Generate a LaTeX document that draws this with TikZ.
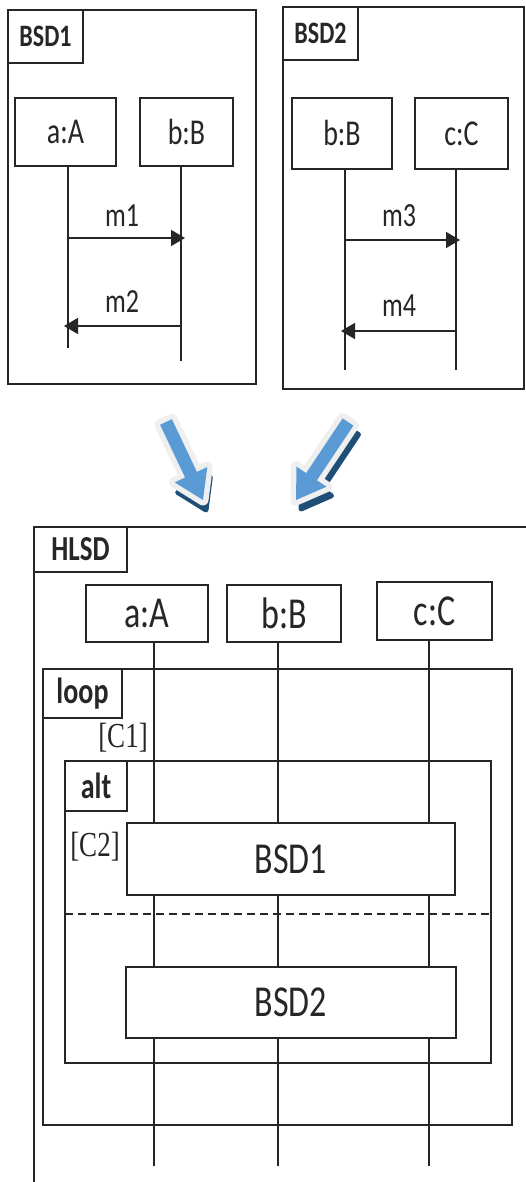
\documentclass[tikz,border=0pt]{standalone}
\usepackage{fontspec}
\setmainfont{Carlito}
\newfontfamily\guardfont{Liberation Serif}
\usetikzlibrary{arrows.meta}
\newcommand\tall[1]{\scalebox{1}[1.3]{#1}}
\definecolor{ink}{HTML}{262626}
\definecolor{arrblue}{HTML}{5B9BD5}
\definecolor{arrdark}{HTML}{1F4E79}
\definecolor{arrrim}{HTML}{EFEFEF}
\tikzset{
  box/.style={draw=ink, line width=1.8pt, fill=white, inner sep=0pt, text=ink},
  frame/.style={draw=ink, line width=1.8pt, inner sep=0pt},
  tagbox/.style={draw=ink, line width=1.8pt, fill=white, inner sep=0pt, text=ink, font=\bfseries\fontsize{24}{24}\selectfont},
  life/.style={draw=ink, line width=1.5pt},
  msg/.style={draw=ink, line width=1.6pt, -{Triangle[length=14pt,width=16pt]}},
  msglabel/.style={text=ink, inner sep=0pt, font=\fontsize{26}{26}\selectfont},
  guard/.style={text=ink, inner sep=0pt, font=\guardfont\fontsize{27}{27}\selectfont},
  bigrim/.style={fill=arrrim, draw=arrrim, line width=11pt, line join=round},
  bigarrow/.style={fill=arrblue, draw=none},
  bigshadow/.style={fill=arrdark, draw=arrdark, line width=5pt, line join=round}
}
\begin{document}
\begin{tikzpicture}[x=1pt,y=-1pt]
\useasboundingbox[fill=white] (0,0) rectangle (526,1182);

% ---------------- BSD1 ----------------
\node[frame, minimum width=248pt, minimum height=374pt] (f1) at (132,197) {};
\node[tagbox, minimum width=75pt, minimum height=53pt] (t1) at (45.5,36.5) {\tall{BSD1}};
\node[box, minimum width=101pt, minimum height=68pt, font=\fontsize{28}{28}\selectfont] (a1) at (65.5,132) {\tall{a:A}};
\node[box, minimum width=93pt, minimum height=68pt, font=\fontsize{28}{28}\selectfont] (b1) at (186.5,132) {\tall{b:B}};
\coordinate (a1e) at (68,348);
\coordinate (b1e) at (181,361);
\draw[life] (a1e |- a1.south) -- (a1e);
\draw[life] (b1e |- b1.south) -- (b1e);
\coordinate (m1s) at (68,238);
\coordinate (m1e) at (185,238);
\coordinate (m2s) at (181,326);
\coordinate (m2e) at (64,326);
\draw[msg] (m1s) -- (m1e);
\draw[msg] (m2s) -- (m2e);
\node[msglabel] (l1) at (122,216) {\tall{m1}};
\node[msglabel] (l2) at (122,302) {\tall{m2}};

% ---------------- BSD2 ----------------
\node[frame, minimum width=241pt, minimum height=382pt] (f2) at (403.5,198) {};
\node[tagbox, minimum width=75pt, minimum height=53pt] (t2) at (320.5,33.5) {\tall{BSD2}};
\node[box, minimum width=100pt, minimum height=71pt, font=\fontsize{28}{28}\selectfont] (b2) at (342,133.5) {\tall{b:B}};
\node[box, minimum width=93pt, minimum height=71pt, font=\fontsize{28}{28}\selectfont] (c2) at (461.5,133.5) {\tall{c:C}};
\coordinate (b2e) at (345,370);
\coordinate (c2e) at (456,370);
\draw[life] (b2e |- b2.south) -- (b2e);
\draw[life] (c2e |- c2.south) -- (c2e);
\coordinate (m3s) at (345,240);
\coordinate (m3e) at (460,240);
\coordinate (m4s) at (456,331);
\coordinate (m4e) at (341,331);
\draw[msg] (m3s) -- (m3e);
\draw[msg] (m4s) -- (m4e);
\node[msglabel] (l3) at (399,216) {\tall{m3}};
\node[msglabel] (l4) at (399,306) {\tall{m4}};

% ---------------- block arrows ----------------
\def\leftarrowpath{(160.1,424.8) -- (171.9,419.2) -- (196.9,471.9) -- (207.3,467.0) -- (203.0,500.0) -- (174.7,482.4) -- (185.1,477.5) -- cycle}
\def\rightarrowpath{(353.4,425.6) -- (342.6,418.4) -- (306.1,473.1) -- (296.5,466.7) -- (296.0,500.0) -- (326.5,486.7) -- (316.9,480.3) -- cycle}
\begin{scope}[shift={(3,10)}]
\draw[bigshadow] \leftarrowpath;
\end{scope}
\draw[bigrim] \leftarrowpath;
\fill[bigarrow] \leftarrowpath;
\begin{scope}[shift={(5,9)}]
\draw[bigshadow] \rightarrowpath;
\end{scope}
\draw[bigrim] \rightarrowpath;
\fill[bigarrow] \rightarrowpath;

% ---------------- HLSD ----------------
\coordinate (hb) at (34,1182);
\coordinate (ht) at (34,527);
\coordinate (hr) at (526,527);
\draw[frame] (hb) -- (ht) -- (hr);
\node[tagbox, minimum width=93pt, minimum height=45pt, font=\bfseries\fontsize{27}{27}\selectfont] (th) at (80.5,549.5) {\tall{HLSD}};
\node[box, minimum width=122pt, minimum height=57pt, font=\fontsize{34}{34}\selectfont] (ah) at (147,613.5) {\tall{a:A}};
\node[box, minimum width=114pt, minimum height=57pt, font=\fontsize{34}{34}\selectfont] (bh) at (284,613.5) {\tall{b:B}};
\node[box, minimum width=115pt, minimum height=58pt, font=\fontsize{34}{34}\selectfont] (ch) at (434.5,611) {\tall{c:C}};
\coordinate (ahe) at (154,1166);
\coordinate (bhe) at (278,1166);
\coordinate (che) at (429,1166);
\draw[life] (ahe |- ah.south) -- (ahe);
\draw[life] (bhe |- bh.south) -- (bhe);
\draw[life] (che |- ch.south) -- (che);

% loop fragment
\node[frame, minimum width=469pt, minimum height=456pt] (loop) at (277.5,897) {};
\node[tagbox, minimum width=79pt, minimum height=49pt, font=\bfseries\fontsize{28}{28}\selectfont] (tl) at (82.5,693.5) {\tall{loop}};
\node[guard] (g1) at (123,738) {\tall{[C1]}};

% alt fragment
\node[frame, minimum width=426pt, minimum height=302pt] (alt) at (278,912) {};
\node[tagbox, minimum width=62pt, minimum height=50pt, font=\bfseries\fontsize{28}{28}\selectfont] (ta) at (96,786) {\tall{alt}};
\node[guard] (g2) at (95,847) {\tall{[C2]}};
\coordinate (dl) at (65,914);
\draw[ink, line width=1.8pt, dash pattern=on 8pt off 5pt] (dl) -- (dl -| alt.east);

% interaction uses
\node[box, minimum width=328pt, minimum height=72pt, font=\fontsize{34}{34}\selectfont] (u1) at (291,859) {\tall{BSD1}};
\node[box, minimum width=330pt, minimum height=71pt, font=\fontsize{34}{34}\selectfont] (u2) at (291,1002.5) {\tall{BSD2}};
\end{tikzpicture}
\end{document}
